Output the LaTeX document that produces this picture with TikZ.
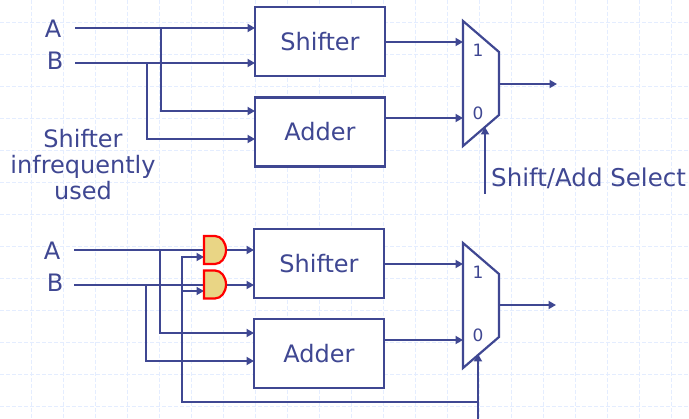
\documentclass[tikz,border=0pt]{standalone}
\usepackage{fontspec}
\setmainfont{DejaVu Sans}
\usetikzlibrary{arrows.meta}
\definecolor{ink}{HTML}{3F4792}
\definecolor{gridc}{HTML}{E4EDFF}
\definecolor{gatefill}{HTML}{E9D585}
\tikzset{
  wire/.style={draw=ink,line width=2.2pt},
  arrowwire/.style={wire,-{Triangle[length=7.5pt,width=8pt]}},
  blockbox/.style={draw=ink,line width=2.2pt,fill=white,minimum width=130pt,minimum height=69pt,inner sep=0pt,outer sep=0pt,text=ink,font=\fontsize{24}{24}\selectfont},
  muxshape/.style={draw=ink,line width=2.2pt,fill=white,line join=miter},
  label/.style={text=ink,inner sep=0pt,font=\fontsize{24}{26}\selectfont,align=center},
  muxlabel/.style={text=ink,inner sep=0pt,font=\fontsize{17}{17}\selectfont},
  gateanchor/.style={minimum width=22pt,minimum height=28pt,inner sep=0pt,outer sep=0pt},
  gateshape/.style={draw=red,fill=gatefill,line width=2.2pt},
  gridline/.style={draw=gridc,line width=1pt,dash pattern=on 4pt off 2pt}
}
\begin{document}
\begin{tikzpicture}[x=1pt,y=-1pt]
\useasboundingbox (0,0) rectangle (689,419);
\fill[white] (0,0) rectangle (689,419);
% background grid
\foreach \gx in {31,63,...,671} \draw[gridline] (\gx,0) -- (\gx,419);
\foreach \gy in {23,55,...,183} \draw[gridline] (0,\gy) -- (689,\gy);
\foreach \gy in {215,247,...,407} \draw[gridline] (0,\gy) -- (689,\gy);

% === top circuit ===
\node[blockbox] (shiftA) at (320,41.5) {Shifter};
\node[blockbox] (addA) at (320,132) {Adder};
\node[label,anchor=center] (lblA) at (53,29) {A};
\node[label,anchor=center] (lblB) at (55,61) {B};
\node[label] (note) at (83,164.5) {Shifter\\infrequently\\used};
\node[label,anchor=west,font=\fontsize{24.5}{26}\selectfont] (sel) at (491,178.5) {Shift/Add Select};

\coordinate (ma1) at (463,21);
\coordinate (ma2) at (499,52);
\coordinate (ma3) at (499,115);
\coordinate (ma4) at (463,146);
\draw[muxshape] (ma1) -- (ma2) -- (ma3) -- (ma4) -- cycle;
\node[muxlabel] (ma1l) at (478,50.5) {1};
\node[muxlabel] (ma0l) at (478,113.5) {0};

\coordinate (aStart) at (75,28);
\coordinate (bStart) at (75,63);
\coordinate (aTap) at (161,28);
\coordinate (bTap) at (147,63);
\coordinate (maIn1) at (463,42);
\coordinate (maIn0) at (463,118);
\coordinate (maOut) at (499,84);
\coordinate (maOutEnd) at (557,84);
\coordinate (maSelS) at (485,194);
\coordinate (maSelE) at (485,127);

\draw[arrowwire] (aStart) -- (shiftA.west |- aStart);
\draw[arrowwire] (bStart) -- (shiftA.west |- bStart);
\draw[arrowwire] (aTap) |- (addA.west |- 0,111);
\draw[arrowwire] (bTap) |- (addA.west |- 0,139);
\draw[arrowwire] (shiftA.east |- maIn1) -- (maIn1);
\draw[arrowwire] (addA.east |- maIn0) -- (maIn0);
\draw[arrowwire] (maOut) -- (maOutEnd);
\draw[arrowwire] (maSelS) -- (maSelE);

% === bottom circuit ===
\node[blockbox] (shiftB) at (319,263.5) {Shifter};
\node[blockbox] (addB) at (319,353.5) {Adder};
\node[label,anchor=center] (lblA2) at (52,251) {A};
\node[label,anchor=center] (lblB2) at (55,283) {B};

\coordinate (mb1) at (463,243);
\coordinate (mb2) at (499,274);
\coordinate (mb3) at (499,337);
\coordinate (mb4) at (463,368);
\draw[muxshape] (mb1) -- (mb2) -- (mb3) -- (mb4) -- cycle;
\node[muxlabel] (mb1l) at (478,272.5) {1};
\node[muxlabel] (mb0l) at (478,335.5) {0};

\coordinate (a2Start) at (74,250);
\coordinate (b2Start) at (74,285);
\coordinate (a2Tap) at (160,250);
\coordinate (b2Tap) at (146,285);
\coordinate (mbIn1) at (463,264);
\coordinate (mbIn0) at (463,340);
\coordinate (mbOut) at (499,305);
\coordinate (mbOutEnd) at (556,305);
\coordinate (selS) at (478,419);
\coordinate (selE) at (478,354);
\coordinate (selJ) at (478,402);
\coordinate (ctlT) at (182,257);
\coordinate (ctlM) at (182,291);

\node[gateanchor] (g1) at (215,250) {};
\node[gateanchor] (g2) at (215,284.5) {};

\draw[wire] (a2Start) -- (g1.west);
\draw[wire] (b2Start) -- (g2.west |- b2Start);
\draw[arrowwire] (a2Tap) |- (addB.west |- 0,333);
\draw[arrowwire] (b2Tap) |- (addB.west |- 0,361);
\draw[arrowwire] (selJ) -| (ctlT) -- (g1.west |- ctlT);
\draw[arrowwire,line width=1.6pt] (ctlM) -- (g2.west |- ctlM);
\draw[arrowwire] (selS) -- (selE);
\draw[arrowwire] (g1.east) -- (shiftB.west |- g1.east);
\draw[arrowwire] (g2.east |- b2Start) -- (shiftB.west |- b2Start);
\draw[arrowwire] (shiftB.east |- mbIn1) -- (mbIn1);
\draw[arrowwire] (addB.east |- mbIn0) -- (mbIn0);
\draw[arrowwire] (mbOut) -- (mbOutEnd);

\foreach \g in {g1,g2}
  \draw[gateshape] (\g.north west) -- ++(11,0) arc[start angle=90,end angle=-90,x radius=11,y radius=-14] -- (\g.south west) -- cycle;
\end{tikzpicture}
\end{document}
